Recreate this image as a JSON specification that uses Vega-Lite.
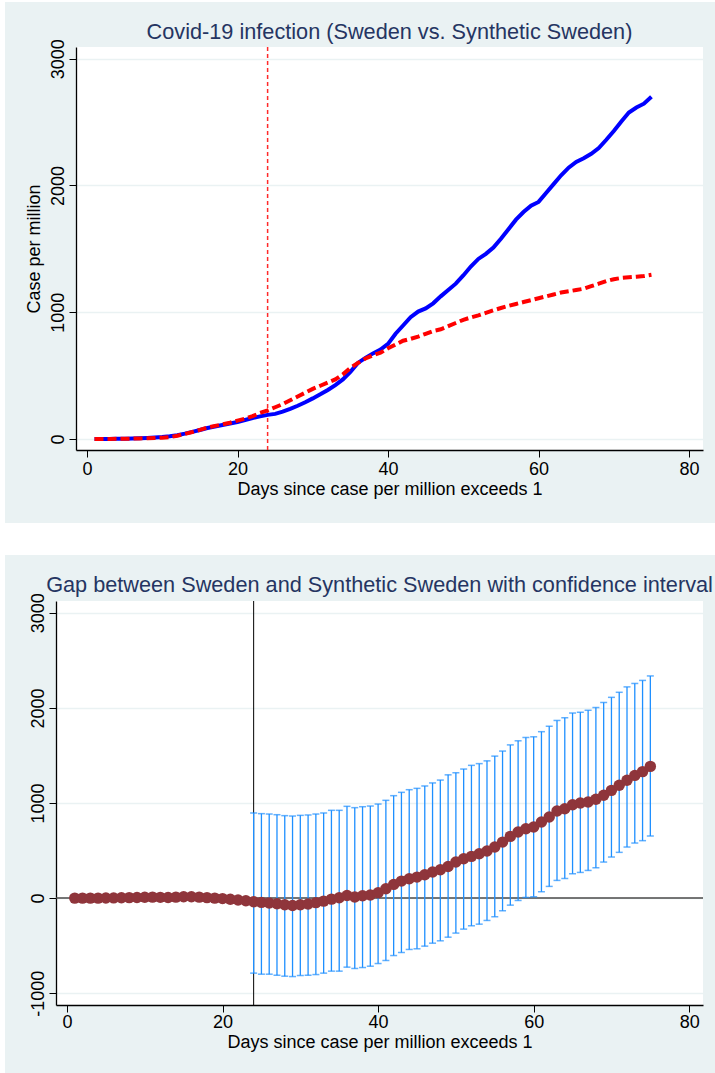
{
  "$schema": "https://vega.github.io/schema/vega-lite/v6.json",
  "background": "#EAF2F3",
  "padding": 0,
  "spacing": 0,
  "config": {
    "font": "Liberation Sans",
    "view": {"stroke": null, "fill": "white"},
    "axis": {
      "labelFont": "Liberation Sans", "labelFontSize": 18, "labelColor": "#000000",
      "titleFont": "Liberation Sans", "titleFontSize": 18, "titleFontWeight": "normal", "titleColor": "#000000",
      "domainColor": "#000000", "domainWidth": 1.3, "tickColor": "#000000", "tickWidth": 1, "tickSize": 7,
      "gridColor": "#EAF2F3", "gridWidth": 1.5
    },
    "title": {"font": "Liberation Sans", "fontSize": 21.7, "fontWeight": "normal", "color": "#253562", "anchor": "middle", "frame": "group", "baseline": "alphabetic"}
  },
  "datasets": {
    "cases": [
      {"day":1,"sweden":0,"synthetic":0},{"day":2,"sweden":0,"synthetic":0},{"day":3,"sweden":0,"synthetic":0},{"day":4,"sweden":1,"synthetic":1},{"day":5,"sweden":2,"synthetic":2},
      {"day":6,"sweden":3,"synthetic":3},{"day":7,"sweden":5,"synthetic":4},{"day":8,"sweden":8,"synthetic":6},{"day":9,"sweden":12,"synthetic":8},{"day":10,"sweden":16,"synthetic":10},
      {"day":11,"sweden":22,"synthetic":15},{"day":12,"sweden":30,"synthetic":25},{"day":13,"sweden":42,"synthetic":40},{"day":14,"sweden":56,"synthetic":55},{"day":15,"sweden":71,"synthetic":72},
      {"day":16,"sweden":86,"synthetic":90},{"day":17,"sweden":98,"synthetic":103},{"day":18,"sweden":110,"synthetic":115},{"day":19,"sweden":122,"synthetic":128},{"day":20,"sweden":134,"synthetic":145},
      {"day":21,"sweden":150,"synthetic":160},{"day":22,"sweden":165,"synthetic":180},{"day":23,"sweden":178,"synthetic":205},{"day":24,"sweden":190,"synthetic":225},{"day":25,"sweden":198,"synthetic":250},
      {"day":26,"sweden":215,"synthetic":275},{"day":27,"sweden":237,"synthetic":305},{"day":28,"sweden":262,"synthetic":335},{"day":29,"sweden":290,"synthetic":365},{"day":30,"sweden":320,"synthetic":395},
      {"day":31,"sweden":352,"synthetic":420},{"day":32,"sweden":386,"synthetic":445},{"day":33,"sweden":425,"synthetic":470},{"day":34,"sweden":470,"synthetic":510},{"day":35,"sweden":530,"synthetic":560},
      {"day":36,"sweden":600,"synthetic":600},{"day":37,"sweden":640,"synthetic":635},{"day":38,"sweden":675,"synthetic":660},{"day":39,"sweden":705,"synthetic":680},{"day":40,"sweden":750,"synthetic":715},
      {"day":41,"sweden":830,"synthetic":745},{"day":42,"sweden":895,"synthetic":775},{"day":43,"sweden":960,"synthetic":790},{"day":44,"sweden":1005,"synthetic":808},{"day":45,"sweden":1030,"synthetic":830},
      {"day":46,"sweden":1070,"synthetic":852},{"day":47,"sweden":1125,"synthetic":865},{"day":48,"sweden":1175,"synthetic":890},{"day":49,"sweden":1225,"synthetic":915},{"day":50,"sweden":1290,"synthetic":940},
      {"day":51,"sweden":1360,"synthetic":958},{"day":52,"sweden":1420,"synthetic":975},{"day":53,"sweden":1460,"synthetic":995},{"day":54,"sweden":1510,"synthetic":1015},{"day":55,"sweden":1580,"synthetic":1033},
      {"day":56,"sweden":1655,"synthetic":1050},{"day":57,"sweden":1730,"synthetic":1065},{"day":58,"sweden":1790,"synthetic":1080},{"day":59,"sweden":1840,"synthetic":1095},{"day":60,"sweden":1870,"synthetic":1110},
      {"day":61,"sweden":1940,"synthetic":1125},{"day":62,"sweden":2010,"synthetic":1140},{"day":63,"sweden":2080,"synthetic":1155},{"day":64,"sweden":2140,"synthetic":1165},{"day":65,"sweden":2185,"synthetic":1175},
      {"day":66,"sweden":2215,"synthetic":1185},{"day":67,"sweden":2250,"synthetic":1205},{"day":68,"sweden":2295,"synthetic":1225},{"day":69,"sweden":2360,"synthetic":1245},{"day":70,"sweden":2430,"synthetic":1260},
      {"day":71,"sweden":2505,"synthetic":1270},{"day":72,"sweden":2575,"synthetic":1275},{"day":73,"sweden":2615,"synthetic":1280},{"day":74,"sweden":2645,"synthetic":1285},{"day":75,"sweden":2700,"synthetic":1295}
    ],
    "gap": [
      {"day":1,"gap":0,"lo":null,"hi":null},{"day":2,"gap":0,"lo":null,"hi":null},{"day":3,"gap":0,"lo":null,"hi":null},{"day":4,"gap":0,"lo":null,"hi":null},{"day":5,"gap":1,"lo":null,"hi":null},
      {"day":6,"gap":2,"lo":null,"hi":null},{"day":7,"gap":3,"lo":null,"hi":null},{"day":8,"gap":5,"lo":null,"hi":null},{"day":9,"gap":7,"lo":null,"hi":null},{"day":10,"gap":9,"lo":null,"hi":null},
      {"day":11,"gap":10,"lo":null,"hi":null},{"day":12,"gap":8,"lo":null,"hi":null},{"day":13,"gap":6,"lo":null,"hi":null},{"day":14,"gap":10,"lo":null,"hi":null},{"day":15,"gap":15,"lo":null,"hi":null},
      {"day":16,"gap":14,"lo":null,"hi":null},{"day":17,"gap":10,"lo":null,"hi":null},{"day":18,"gap":5,"lo":null,"hi":null},{"day":19,"gap":0,"lo":null,"hi":null},{"day":20,"gap":-5,"lo":null,"hi":null},
      {"day":21,"gap":-12,"lo":null,"hi":null},{"day":22,"gap":-20,"lo":null,"hi":null},{"day":23,"gap":-28,"lo":null,"hi":null},
      {"day":24,"gap":-38,"lo":-789,"hi":895},{"day":25,"gap":-45,"lo":-800,"hi":888},{"day":26,"gap":-52,"lo":-800,"hi":884},{"day":27,"gap":-60,"lo":-811,"hi":877},{"day":28,"gap":-70,"lo":-821,"hi":867},
      {"day":29,"gap":-77,"lo":-825,"hi":863},{"day":30,"gap":-70,"lo":-814,"hi":870},{"day":31,"gap":-62,"lo":-811,"hi":874},{"day":32,"gap":-48,"lo":-804,"hi":884},{"day":33,"gap":-32,"lo":-789,"hi":895},
      {"day":34,"gap":-11,"lo":-768,"hi":923},{"day":35,"gap":4,"lo":-768,"hi":923},{"day":36,"gap":28,"lo":-726,"hi":965},{"day":37,"gap":11,"lo":-740,"hi":951},{"day":38,"gap":25,"lo":-730,"hi":961},
      {"day":39,"gap":32,"lo":-716,"hi":968},{"day":40,"gap":56,"lo":-688,"hi":989},{"day":41,"gap":98,"lo":-656,"hi":1028},{"day":42,"gap":144,"lo":-604,"hi":1077},{"day":43,"gap":179,"lo":-572,"hi":1112},
      {"day":44,"gap":204,"lo":-540,"hi":1140},{"day":45,"gap":221,"lo":-533,"hi":1154},{"day":46,"gap":246,"lo":-505,"hi":1179},{"day":47,"gap":274,"lo":-474,"hi":1211},{"day":48,"gap":298,"lo":-449,"hi":1241},
      {"day":49,"gap":333,"lo":-411,"hi":1296},{"day":50,"gap":379,"lo":-368,"hi":1318},{"day":51,"gap":414,"lo":-326,"hi":1357},{"day":52,"gap":439,"lo":-291,"hi":1396},{"day":53,"gap":467,"lo":-274,"hi":1414},
      {"day":54,"gap":495,"lo":-235,"hi":1443},{"day":55,"gap":537,"lo":-196,"hi":1493},{"day":56,"gap":589,"lo":-133,"hi":1546},{"day":57,"gap":649,"lo":-74,"hi":1611},{"day":58,"gap":695,"lo":-25,"hi":1654},
      {"day":59,"gap":730,"lo":7,"hi":1689},{"day":60,"gap":747,"lo":14,"hi":1696},{"day":61,"gap":800,"lo":67,"hi":1750},{"day":62,"gap":853,"lo":123,"hi":1807},{"day":63,"gap":916,"lo":186,"hi":1868},
      {"day":64,"gap":940,"lo":207,"hi":1896},{"day":65,"gap":982,"lo":256,"hi":1946},{"day":66,"gap":1000,"lo":270,"hi":1954},{"day":67,"gap":1011,"lo":291,"hi":1975},{"day":68,"gap":1039,"lo":319,"hi":2004},
      {"day":69,"gap":1081,"lo":379,"hi":2057},{"day":70,"gap":1133,"lo":432,"hi":2111},{"day":71,"gap":1186,"lo":481,"hi":2164},{"day":72,"gap":1239,"lo":537,"hi":2221},{"day":73,"gap":1290,"lo":579,"hi":2257},
      {"day":74,"gap":1330,"lo":604,"hi":2289},{"day":75,"gap":1385,"lo":653,"hi":2336}
    ]
  },
  "hconcat": [
    {
      "width": 5, "height": 1073,
      "view": {"fill": "#FFFFFF", "stroke": null},
      "data": {"values": []},
      "mark": "rect",
      "encoding": {}
    },
    {
      "spacing": 0,
      "vconcat": [
        {
          "width": 710, "height": 2,
          "view": {"fill": "#FFFFFF", "stroke": null},
          "data": {"values": []},
          "mark": "rect",
          "encoding": {}
        },
        {
          "width": 10, "height": 19,
          "view": {"fill": "#EAF2F3", "stroke": null},
          "data": {"values": []},
          "mark": "rect",
          "encoding": {}
        },
        {
          "spacing": 0,
          "hconcat": [
            {
              "width": 19, "height": 1,
              "view": {"fill": "#EAF2F3", "stroke": null},
              "data": {"values": []},
              "mark": "rect",
              "encoding": {}
            },
            {
              "title": {"text": "Covid-19 infection (Sweden vs. Synthetic Sweden)", "offset": -5},
              "width": 627,
              "height": 403,
              "layer": [
                {
                  "data": {"values": [{"day": 24}]},
                  "mark": {"type": "rule", "color": "#FF2A2A", "strokeWidth": 1.5, "strokeDash": [4, 3]},
                  "encoding": {
                    "x": {"field": "day", "type": "quantitative", "title": "Days since case per million exceeds 1",
                      "scale": {"domain": [-1.46, 81.85], "nice": false, "zero": false},
                      "axis": {"values": [0, 20, 40, 60, 80], "grid": false, "labelPadding": 3, "titlePadding": 2}}
                  }
                },
                {
                  "data": {"name": "cases"},
                  "mark": {"type": "line", "color": "#0000FF", "strokeWidth": 4},
                  "encoding": {
                    "x": {"field": "day", "type": "quantitative", "title": "Days since case per million exceeds 1"},
                    "y": {"field": "sweden", "type": "quantitative", "title": "Case per million",
                      "scale": {"domain": [-87, 3092], "nice": false, "zero": false},
                      "axis": {"values": [0, 1000, 2000, 3000], "grid": true, "labelExpr": "datum.value < 0 ? '-' + abs(datum.value) : '' + datum.value", "labelAngle": -90, "labelAlign": "center", "labelBaseline": "bottom", "labelPadding": 2, "titlePadding": 6}}
                  }
                },
                {
                  "data": {"name": "cases"},
                  "mark": {"type": "line", "color": "#FF0000", "strokeWidth": 4, "strokeDash": [9, 4]},
                  "encoding": {
                    "x": {"field": "day", "type": "quantitative", "title": "Days since case per million exceeds 1"},
                    "y": {"field": "synthetic", "type": "quantitative", "title": "Case per million"}
                  }
                }
              ]
            }
          ]
        },
        {
          "width": 10, "height": 25,
          "view": {"fill": "#EAF2F3", "stroke": null},
          "data": {"values": []},
          "mark": "rect",
          "encoding": {}
        },
        {
          "width": 710, "height": 32,
          "view": {"fill": "#FFFFFF", "stroke": null},
          "data": {"values": []},
          "mark": "rect",
          "encoding": {}
        },
        {
          "width": 10, "height": 19,
          "view": {"fill": "#EAF2F3", "stroke": null},
          "data": {"values": []},
          "mark": "rect",
          "encoding": {}
        },
        {
          "spacing": 0,
          "hconcat": [
            {
              "width": 22.5, "height": 1,
              "view": {"fill": "#EAF2F3", "stroke": null},
              "data": {"values": []},
              "mark": "rect",
              "encoding": {}
            },
            {
              "title": {"text": "Gap between Sweden and Synthetic Sweden with confidence interval", "offset": -3.5},
              "width": 647,
              "height": 404,
              "layer": [
                {
                  "data": {"values": [{"v": 0}]},
                  "mark": {"type": "rule", "color": "#4A4A4A", "strokeWidth": 1.5},
                  "encoding": {
                    "y": {"field": "v", "type": "quantitative", "title": null,
                      "scale": {"domain": [-1124, 3124], "nice": false, "zero": false},
                      "axis": {"values": [-1000, 0, 1000, 2000, 3000], "grid": true, "labelExpr": "datum.value < 0 ? '-' + abs(datum.value) : '' + datum.value", "labelAngle": -90, "labelAlign": "center", "labelBaseline": "bottom", "labelPadding": 2}}
                  }
                },
                {
                  "data": {"values": [{"day": 24}]},
                  "mark": {"type": "rule", "color": "#000000", "strokeWidth": 1},
                  "encoding": {
                    "x": {"field": "day", "type": "quantitative", "title": "Days since case per million exceeds 1",
                      "scale": {"domain": [-1.41, 81.77], "nice": false, "zero": false},
                      "axis": {"values": [0, 20, 40, 60, 80], "grid": false, "labelPadding": 1, "titlePadding": 2}}
                  }
                },
                {
                  "data": {"name": "gap"},
                  "transform": [{"filter": "datum.lo != null"}],
                  "mark": {"type": "rule", "color": "#1E8FFF", "strokeWidth": 1.3},
                  "encoding": {
                    "x": {"field": "day", "type": "quantitative", "title": "Days since case per million exceeds 1"},
                    "y": {"field": "lo", "type": "quantitative", "title": null},
                    "y2": {"field": "hi"}
                  }
                },
                {
                  "data": {"name": "gap"},
                  "transform": [{"filter": "datum.lo != null"}],
                  "mark": {"type": "tick", "orient": "horizontal", "color": "#1E8FFF", "size": 7, "thickness": 1.5},
                  "encoding": {
                    "x": {"field": "day", "type": "quantitative", "title": "Days since case per million exceeds 1"},
                    "y": {"field": "lo", "type": "quantitative", "title": null}
                  }
                },
                {
                  "data": {"name": "gap"},
                  "transform": [{"filter": "datum.lo != null"}],
                  "mark": {"type": "tick", "orient": "horizontal", "color": "#1E8FFF", "size": 7, "thickness": 1.5},
                  "encoding": {
                    "x": {"field": "day", "type": "quantitative", "title": "Days since case per million exceeds 1"},
                    "y": {"field": "hi", "type": "quantitative", "title": null}
                  }
                },
                {
                  "data": {"name": "gap"},
                  "mark": {"type": "circle", "color": "#8F353B", "size": 130, "opacity": 1},
                  "encoding": {
                    "x": {"field": "day", "type": "quantitative", "title": "Days since case per million exceeds 1"},
                    "y": {"field": "gap", "type": "quantitative", "title": null}
                  }
                }
              ]
            }
          ]
        }
      ]
    }
  ]
}
